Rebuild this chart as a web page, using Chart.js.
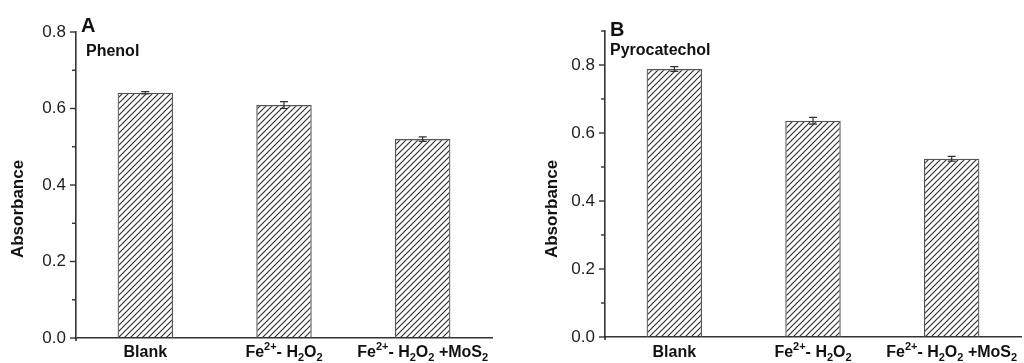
<!DOCTYPE html>
<html>
<head>
<title>Absorbance - Phenol / Pyrocatechol</title>
<script src="https://cdn.jsdelivr.net/npm/chart.js"></script>
<style>
  body { margin: 0; background: #fff; }
  .panel { position: absolute; top: 0; width: 512px; height: 363px; }
</style>
</head>
<body>
<div class="panel" style="left:0"><canvas id="chartA"></canvas></div>
<div class="panel" style="left:512px"><canvas id="chartB"></canvas></div>

<script>
// ---- data ----
const categories = ['Blank', 'Fe2+- H2O2', 'Fe2+- H2O2 +MoS2'];

const phenolValues = [0.641, 0.609, 0.520];
const phenolErrors = [0.003, 0.009, 0.006];

const pyroValues = [0.788, 0.636, 0.524];
const pyroErrors = [0.007, 0.010, 0.007];

// tick labels on the x axis, with super/subscripts
const xLabelParts = [
  [['Blank', '']],
  [['Fe', ''], ['2+', 'sup'], ['- H', ''], ['2', 'sub'], ['O', ''], ['2', 'sub']],
  [['Fe', ''], ['2+', 'sup'], ['- H', ''], ['2', 'sub'], ['O', ''], ['2', 'sub'], [' +MoS', ''], ['2', 'sub']]
];

const FONT = '"Liberation Sans", Arial, sans-serif';

// diagonal hatch fill for the bars
function makeHatch(ctx) {
  const s = 6;
  const c = document.createElement('canvas');
  c.width = s; c.height = s;
  const g = c.getContext('2d');
  g.strokeStyle = '#333';
  g.lineWidth = 1.2;
  g.beginPath();
  g.moveTo(0, s); g.lineTo(s, 0);
  g.moveTo(-s / 2, s / 2); g.lineTo(s / 2, -s / 2);
  g.moveTo(s / 2, s * 1.5); g.lineTo(s * 1.5, s / 2);
  g.stroke();
  return ctx.createPattern(c, 'repeat');
}

// draw text with sup / sub parts centred on cx
function drawRich(ctx, parts, cx, base) {
  const big = 'bold 16px ' + FONT, small = 'bold 11px ' + FONT;
  let total = 0;
  parts.forEach(p => { ctx.font = p[1] ? small : big; total += ctx.measureText(p[0]).width; });
  let x = cx - total / 2;
  ctx.textAlign = 'left';
  ctx.textBaseline = 'alphabetic';
  parts.forEach(p => {
    ctx.font = p[1] ? small : big;
    let dy = 0;
    if (p[1] === 'sup') dy = -7;
    if (p[1] === 'sub') dy = 4;
    ctx.fillText(p[0], x, base + dy);
    x += ctx.measureText(p[0]).width;
  });
}

function decorPlugin(cfg) {
  return {
    id: 'decor',
    afterDatasetsDraw(chart) {
      const ctx = chart.ctx, xs = chart.scales.x, ys = chart.scales.y;
      ctx.save();

      // error bars
      ctx.strokeStyle = '#333';
      ctx.lineWidth = 1.2;
      cfg.values.forEach((v, i) => {
        const px = xs.getPixelForValue(i);
        const top = ys.getPixelForValue(v + cfg.errors[i]);
        const bot = ys.getPixelForValue(v - cfg.errors[i]);
        ctx.beginPath();
        ctx.moveTo(px, top); ctx.lineTo(px, bot);
        ctx.moveTo(px - 4, top); ctx.lineTo(px + 4, top);
        ctx.moveTo(px - 4, bot); ctx.lineTo(px + 4, bot);
        ctx.stroke();
      });

      // y tick marks, major every 0.2, minor every 0.1
      ctx.strokeStyle = '#333';
      ctx.lineWidth = 1.4;
      const ax = chart.chartArea.left;
      for (let k = 0; k <= Math.round(cfg.max * 10); k++) {
        const py = ys.getPixelForValue(k / 10);
        const len = k % 2 === 0 ? 6 : 4;
        ctx.beginPath();
        ctx.moveTo(ax - len, py); ctx.lineTo(ax, py);
        ctx.stroke();
      }
      // axis stub below zero
      ctx.lineWidth = 1.6;
      ctx.beginPath();
      ctx.moveTo(ax, chart.chartArea.bottom);
      ctx.lineTo(ax, chart.chartArea.bottom + 3);
      ctx.stroke();

      // x labels
      ctx.fillStyle = '#111';
      xLabelParts.forEach((parts, i) => drawRich(ctx, parts, xs.getPixelForValue(i), 357));

      // y title
      ctx.save();
      ctx.translate(cfg.titleX, 209);
      ctx.rotate(-Math.PI / 2);
      ctx.font = 'bold 17px ' + FONT;
      ctx.textAlign = 'center';
      ctx.textBaseline = 'middle';
      ctx.fillText('Absorbance', 0, 0);
      ctx.restore();

      // panel letter and compound name
      ctx.textAlign = 'left';
      ctx.textBaseline = 'alphabetic';
      ctx.font = 'bold 20px ' + FONT;
      ctx.fillText(cfg.letter, cfg.letterX, cfg.letterY);
      ctx.font = 'bold 16px ' + FONT;
      ctx.fillText(cfg.name, cfg.nameX, cfg.nameY);

      ctx.restore();
    }
  };
}

function makeChart(id, values, errors, cfg) {
  const canvas = document.getElementById(id);
  const ctx = canvas.getContext('2d');
  return new Chart(ctx, {
    type: 'bar',
    data: {
      labels: categories,
      datasets: [{
        data: values,
        backgroundColor: makeHatch(ctx),
        borderColor: '#555',
        borderWidth: 1.2,
        barPercentage: 0.4,
        categoryPercentage: 1
      }]
    },
    options: {
      responsive: true,
      maintainAspectRatio: false,
      animation: false,
      layout: { padding: { top: cfg.top, right: cfg.right, left: 0, bottom: 0 } },
      plugins: { legend: { display: false }, tooltip: { enabled: false } },
      scales: {
        x: {
          grid: { display: false, drawTicks: false },
          ticks: { display: false },
          border: { display: true, color: '#333', width: 1.6 },
          afterFit: s => { s.height = cfg.bottom; }
        },
        y: {
          min: 0,
          max: cfg.max,
          grid: { display: false, drawTicks: false },
          border: { display: true, color: '#333', width: 1.6 },
          ticks: {
            stepSize: 0.1,
            padding: 10,
            color: '#1e1e1e',
            font: { family: FONT, size: 17 },
            callback: v => (Math.round(v * 10) % 2 === 0 ? v.toFixed(1) : '')
          },
          afterFit: s => { s.width = cfg.left; }
        }
      }
    },
    plugins: [decorPlugin(Object.assign({ values: values, errors: errors }, cfg))]
  });
}

makeChart('chartA', phenolValues, phenolErrors, {
  max: 0.8, top: 32, right: 20, bottom: 25, left: 76,
  titleX: 18, letter: 'A', letterX: 81, letterY: 32, name: 'Phenol', nameX: 86, nameY: 56
});

makeChart('chartB', pyroValues, pyroErrors, {
  max: 0.9, top: 31, right: 3, bottom: 26, left: 93,
  titleX: 40, letter: 'B', letterX: 98, letterY: 36, name: 'Pyrocatechol', nameX: 98, nameY: 55
});
</script>
</body>
</html>
